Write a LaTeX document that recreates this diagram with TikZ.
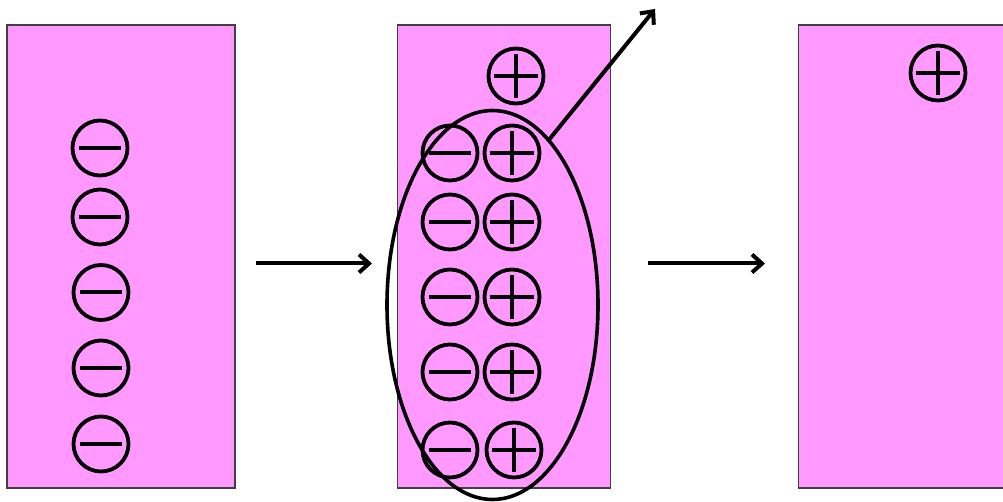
\documentclass[tikz,border=0pt]{standalone}
\usetikzlibrary{shapes.geometric,arrows.meta}
\definecolor{panelpink}{HTML}{FF99FF}
\definecolor{panelline}{HTML}{404040}
\begin{document}
\begin{tikzpicture}[x=1pt,y=-1pt,
  panel/.style={draw=panelline,line width=1.2pt,fill=panelpink,rectangle,inner sep=0pt},
  ion/.style={circle,draw=black,line width=3.8pt,minimum size=55pt,inner sep=0pt},
  minusion/.style={ion,path picture={\draw[line width=4pt]
      ([xshift=-21pt]path picture bounding box.center) -- ([xshift=21pt]path picture bounding box.center);}},
  plusion/.style={ion,path picture={\draw[line width=4pt]
      ([xshift=-22pt]path picture bounding box.center) -- ([xshift=22pt]path picture bounding box.center)
      ([yshift=-22pt]path picture bounding box.center) -- ([yshift=22pt]path picture bounding box.center);}},
  flow/.style={line width=4pt,-{Straight Barb[length=10pt,width=18pt]}}
]
\useasboundingbox (0,0) rectangle (1003,502);
% panels
\node[panel,minimum width=228pt,minimum height=463pt] (p1) at (121,256.5) {};
\node[panel,minimum width=213.4pt,minimum height=463pt] (p2) at (504,256.5) {};
\node[panel,minimum width=230pt,minimum height=463pt] (p3) at (913.3,256.5) {};
% panel 1
\node[minusion] (a1) at (100,148) {};
\node[minusion] (a2) at (100,217) {};
\node[minusion] (a3) at (101,292.5) {};
\node[minusion] (a4) at (101,368) {};
\node[minusion] (a5) at (101,444) {};
% panel 2
\node[plusion] (b0) at (516,76) {};
\node[minusion] (bm1) at (450,153) {};
\node[minusion] (bm2) at (450,222) {};
\node[minusion] (bm3) at (450,297) {};
\node[minusion] (bm4) at (450,372) {};
\node[minusion] (bm5) at (450,450) {};
\node[plusion] (bp1) at (512,153) {};
\node[plusion] (bp2) at (512,222) {};
\node[plusion] (bp3) at (512,297) {};
\node[plusion] (bp4) at (512,372) {};
\node[plusion] (bp5) at (514,450) {};
\node[ellipse,draw=black,line width=3.6pt,minimum width=211pt,minimum height=389pt,inner sep=0pt] (ell) at (492.5,305) {};
% panel 3
\node[plusion] (c0) at (938,73) {};
% arrows
\coordinate (h1s) at (256,263.5);
\coordinate (h1e) at (372,263.5);
\coordinate (h2s) at (648,263.5);
\coordinate (h2e) at (765,263.5);
\coordinate (out) at (655,9);
\draw[flow] (h1s) -- (h1e);
\draw[flow] (h2s) -- (h2e);
\draw[flow] (ell.71) -- (out);
\end{tikzpicture}
\end{document}
